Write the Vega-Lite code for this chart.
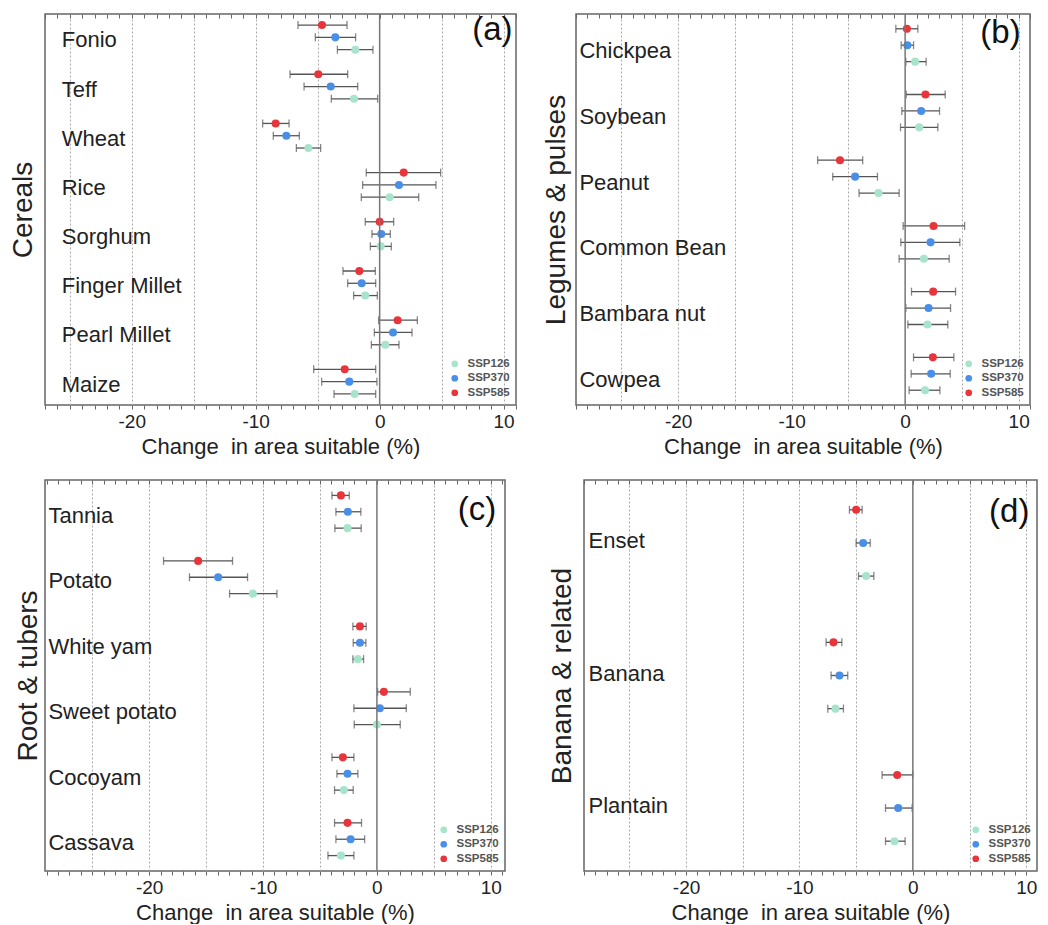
{
  "$schema": "https://vega.github.io/schema/vega-lite/v6.json",
  "background": "white",
  "padding": {"left": 8, "top": 12, "right": 0, "bottom": 0},
  "config": {
    "font": "Liberation Sans",
    "view": {"stroke": "#666", "strokeWidth": 1.5},
    "axis": {"labelFontSize": 19, "titleFontSize": 22, "labelColor": "#222", "titleColor": "#222", "titleFontWeight": "normal", "tickColor": "#666", "tickSize": 4, "labelPadding": 3, "titlePadding": 5, "gridColor": "#aaa", "gridDash": [2, 2]},
    "axisY": {"titleFontSize": 28, "titlePadding": 5}
  },
  "datasets": {
    "a": [
      {"crop": "Fonio", "scen": "SSP585", "mid": -4.65, "lo": -6.59, "hi": -2.63},
      {"crop": "Fonio", "scen": "SSP370", "mid": -3.58, "lo": -5.19, "hi": -1.94},
      {"crop": "Fonio", "scen": "SSP126", "mid": -1.96, "lo": -3.41, "hi": -0.54},
      {"crop": "Teff", "scen": "SSP585", "mid": -4.95, "lo": -7.23, "hi": -2.58},
      {"crop": "Teff", "scen": "SSP370", "mid": -3.95, "lo": -6.1, "hi": -1.77},
      {"crop": "Teff", "scen": "SSP126", "mid": -2.07, "lo": -3.9, "hi": -0.16},
      {"crop": "Wheat", "scen": "SSP585", "mid": -8.39, "lo": -9.44, "hi": -7.31},
      {"crop": "Wheat", "scen": "SSP370", "mid": -7.53, "lo": -8.58, "hi": -6.48},
      {"crop": "Wheat", "scen": "SSP126", "mid": -5.75, "lo": -6.72, "hi": -4.76},
      {"crop": "Rice", "scen": "SSP585", "mid": 1.94, "lo": -1.08, "hi": 4.92},
      {"crop": "Rice", "scen": "SSP370", "mid": 1.56, "lo": -1.37, "hi": 4.54},
      {"crop": "Rice", "scen": "SSP126", "mid": 0.81, "lo": -1.48, "hi": 3.15},
      {"crop": "Sorghum", "scen": "SSP585", "mid": 0.0, "lo": -1.16, "hi": 1.13},
      {"crop": "Sorghum", "scen": "SSP370", "mid": 0.13, "lo": -0.62, "hi": 0.86},
      {"crop": "Sorghum", "scen": "SSP126", "mid": 0.08, "lo": -0.75, "hi": 0.94},
      {"crop": "Finger Millet", "scen": "SSP585", "mid": -1.64, "lo": -2.96, "hi": -0.35},
      {"crop": "Finger Millet", "scen": "SSP370", "mid": -1.45, "lo": -2.58, "hi": -0.32},
      {"crop": "Finger Millet", "scen": "SSP126", "mid": -1.16, "lo": -2.1, "hi": -0.19},
      {"crop": "Pearl Millet", "scen": "SSP585", "mid": 1.45, "lo": -0.08, "hi": 3.04},
      {"crop": "Pearl Millet", "scen": "SSP370", "mid": 1.08, "lo": -0.43, "hi": 2.61},
      {"crop": "Pearl Millet", "scen": "SSP126", "mid": 0.46, "lo": -0.67, "hi": 1.56},
      {"crop": "Maize", "scen": "SSP585", "mid": -2.82, "lo": -5.32, "hi": -0.32},
      {"crop": "Maize", "scen": "SSP370", "mid": -2.45, "lo": -4.68, "hi": -0.22},
      {"crop": "Maize", "scen": "SSP126", "mid": -2.02, "lo": -3.68, "hi": -0.32}
    ],
    "b": [
      {"crop": "Chickpea", "scen": "SSP585", "mid": 0.15, "lo": -0.82, "hi": 1.12},
      {"crop": "Chickpea", "scen": "SSP370", "mid": 0.2, "lo": -0.35, "hi": 0.74},
      {"crop": "Chickpea", "scen": "SSP126", "mid": 0.88, "lo": 0.06, "hi": 1.85},
      {"crop": "Soybean", "scen": "SSP585", "mid": 1.79, "lo": 0.09, "hi": 3.53},
      {"crop": "Soybean", "scen": "SSP370", "mid": 1.41, "lo": -0.29, "hi": 3.03},
      {"crop": "Soybean", "scen": "SSP126", "mid": 1.24, "lo": -0.41, "hi": 2.88},
      {"crop": "Peanut", "scen": "SSP585", "mid": -5.74, "lo": -7.71, "hi": -3.74},
      {"crop": "Peanut", "scen": "SSP370", "mid": -4.41, "lo": -6.38, "hi": -2.44},
      {"crop": "Peanut", "scen": "SSP126", "mid": -2.35, "lo": -4.06, "hi": -0.53},
      {"crop": "Common Bean", "scen": "SSP585", "mid": 2.5, "lo": -0.18, "hi": 5.24},
      {"crop": "Common Bean", "scen": "SSP370", "mid": 2.24, "lo": -0.38, "hi": 4.82},
      {"crop": "Common Bean", "scen": "SSP126", "mid": 1.65, "lo": -0.53, "hi": 3.88},
      {"crop": "Bambara nut", "scen": "SSP585", "mid": 2.47, "lo": 0.56, "hi": 4.44},
      {"crop": "Bambara nut", "scen": "SSP370", "mid": 2.06, "lo": 0.06, "hi": 4.0},
      {"crop": "Bambara nut", "scen": "SSP126", "mid": 1.97, "lo": 0.24, "hi": 3.76},
      {"crop": "Cowpea", "scen": "SSP585", "mid": 2.44, "lo": 0.74, "hi": 4.29},
      {"crop": "Cowpea", "scen": "SSP370", "mid": 2.29, "lo": 0.53, "hi": 3.97},
      {"crop": "Cowpea", "scen": "SSP126", "mid": 1.76, "lo": 0.35, "hi": 3.06}
    ],
    "c": [
      {"crop": "Tannia", "scen": "SSP585", "mid": -3.16, "lo": -3.95, "hi": -2.43},
      {"crop": "Tannia", "scen": "SSP370", "mid": -2.55, "lo": -3.6, "hi": -1.41},
      {"crop": "Tannia", "scen": "SSP126", "mid": -2.58, "lo": -3.69, "hi": -1.38},
      {"crop": "Potato", "scen": "SSP585", "mid": -15.7, "lo": -18.74, "hi": -12.68},
      {"crop": "Potato", "scen": "SSP370", "mid": -13.94, "lo": -16.46, "hi": -11.36},
      {"crop": "Potato", "scen": "SSP126", "mid": -10.89, "lo": -12.94, "hi": -8.78},
      {"crop": "White yam", "scen": "SSP585", "mid": -1.49, "lo": -2.11, "hi": -0.94},
      {"crop": "White yam", "scen": "SSP370", "mid": -1.49, "lo": -2.08, "hi": -0.97},
      {"crop": "White yam", "scen": "SSP126", "mid": -1.67, "lo": -2.11, "hi": -1.17},
      {"crop": "Sweet potato", "scen": "SSP585", "mid": 0.61, "lo": 0.06, "hi": 2.93},
      {"crop": "Sweet potato", "scen": "SSP370", "mid": 0.26, "lo": -2.02, "hi": 2.58},
      {"crop": "Sweet potato", "scen": "SSP126", "mid": 0.0, "lo": -1.99, "hi": 2.05},
      {"crop": "Cocoyam", "scen": "SSP585", "mid": -2.99, "lo": -3.95, "hi": -2.02},
      {"crop": "Cocoyam", "scen": "SSP370", "mid": -2.58, "lo": -3.51, "hi": -1.67},
      {"crop": "Cocoyam", "scen": "SSP126", "mid": -2.9, "lo": -3.72, "hi": -2.08},
      {"crop": "Cassava", "scen": "SSP585", "mid": -2.58, "lo": -3.72, "hi": -1.35},
      {"crop": "Cassava", "scen": "SSP370", "mid": -2.31, "lo": -3.6, "hi": -1.08},
      {"crop": "Cassava", "scen": "SSP126", "mid": -3.16, "lo": -4.3, "hi": -2.02}
    ],
    "d": [
      {"crop": "Enset", "scen": "SSP585", "mid": -5.0, "lo": -5.59, "hi": -4.47},
      {"crop": "Enset", "scen": "SSP370", "mid": -4.38, "lo": -5.0, "hi": -3.76},
      {"crop": "Enset", "scen": "SSP126", "mid": -4.12, "lo": -4.79, "hi": -3.44},
      {"crop": "Banana", "scen": "SSP585", "mid": -7.0, "lo": -7.65, "hi": -6.26},
      {"crop": "Banana", "scen": "SSP370", "mid": -6.47, "lo": -7.21, "hi": -5.74},
      {"crop": "Banana", "scen": "SSP126", "mid": -6.82, "lo": -7.5, "hi": -6.12},
      {"crop": "Plantain", "scen": "SSP585", "mid": -1.38, "lo": -2.71, "hi": 0.0},
      {"crop": "Plantain", "scen": "SSP370", "mid": -1.29, "lo": -2.41, "hi": -0.06},
      {"crop": "Plantain", "scen": "SSP126", "mid": -1.62, "lo": -2.41, "hi": -0.68}
    ]
  },
  "resolve": {"scale": {"x": "independent", "y": "independent", "yOffset": "independent", "color": "independent"}, "legend": {"color": "independent"}},
  "columns": 2,
  "align": "none",
  "spacing": {"row": 20, "column": 23},
  "concat": [
        {
          "width": 471, "height": 391,
          "data": {"name": "a"},
          "resolve": {"axis": {"x": "independent", "y": "independent"}},
          "layer": [
            {"mark": {"type": "rule", "color": "#555", "strokeWidth": 1.3},
             "encoding": {
               "x": {"field": "lo", "type": "quantitative", "scale": {"domain": [-27, 11], "nice": false, "zero": false},
                     "axis": {"orient": "bottom", "domain": false, "values": [-27,-26,-25,-24,-23,-22,-21,-20,-19,-18,-17,-16,-15,-14,-13,-12,-11,-10,-9,-8,-7,-6,-5,-4,-3,-2,-1,0,1,2,3,4,5,6,7,8,9,10,11],
                              "labelExpr": "datum.value % 10 === 0 ? '' + datum.value : ''", "grid": true,
                              "gridOpacity": {"condition": {"test": "datum.value % 5 === 0 && datum.value !== 0", "value": 1}, "value": 0},
                              "title": "Change\u00a0 in area suitable (%)"}},
               "x2": {"field": "hi"},
               "y": {"field": "crop", "type": "nominal", "sort": ["Fonio","Teff","Wheat","Rice","Sorghum","Finger Millet","Pearl Millet","Maize"], "scale": {"paddingInner": 0.25, "paddingOuter": 0.1}, "axis": null},
               "yOffset": {"field": "scen", "type": "nominal", "sort": ["SSP585","SSP370","SSP126"], "scale": {"paddingInner": 0, "paddingOuter": 0}}
             }},
            {"mark": {"type": "tick", "color": "#555", "thickness": 1.3, "size": 8},
             "encoding": {"x": {"field": "lo", "type": "quantitative", "axis": null}, "y": {"field": "crop", "type": "nominal", "sort": ["Fonio","Teff","Wheat","Rice","Sorghum","Finger Millet","Pearl Millet","Maize"], "axis": null}, "yOffset": {"field": "scen", "type": "nominal", "sort": ["SSP585","SSP370","SSP126"]}}},
            {"mark": {"type": "tick", "color": "#555", "thickness": 1.3, "size": 8},
             "encoding": {"x": {"field": "hi", "type": "quantitative", "axis": null}, "y": {"field": "crop", "type": "nominal", "sort": ["Fonio","Teff","Wheat","Rice","Sorghum","Finger Millet","Pearl Millet","Maize"], "axis": null}, "yOffset": {"field": "scen", "type": "nominal", "sort": ["SSP585","SSP370","SSP126"]}}},
            {"mark": {"type": "point", "filled": true, "size": 65, "opacity": 1},
             "encoding": {"x": {"field": "mid", "type": "quantitative", "axis": null}, "y": {"field": "crop", "type": "nominal", "sort": ["Fonio","Teff","Wheat","Rice","Sorghum","Finger Millet","Pearl Millet","Maize"], "axis": null}, "yOffset": {"field": "scen", "type": "nominal", "sort": ["SSP585","SSP370","SSP126"]},
               "color": {"field": "scen", "type": "nominal", "scale": {"domain": ["SSP126","SSP370","SSP585"], "range": ["#a8e4cc","#4a8fe7","#e8353b"]},
                         "legend": {"orient": "bottom-right", "title": null, "offset": 6, "padding": 0, "symbolType": "circle", "symbolSize": 45, "labelFontSize": 11.5, "labelFontWeight": "bold", "labelColor": "#555", "rowPadding": 1.5, "labelOffset": 7}}}},
            {"transform": [{"filter": "datum.scen === 'SSP370'"}],
             "mark": {"type": "text", "align": "left", "baseline": "middle", "fontSize": 22, "dy": 3, "color": "#222"},
             "encoding": {"x": {"datum": -25.65, "type": "quantitative", "axis": null}, "y": {"field": "crop", "type": "nominal", "sort": ["Fonio","Teff","Wheat","Rice","Sorghum","Finger Millet","Pearl Millet","Maize"],
               "axis": {"orient": "left", "title": "Cereals", "titlePadding": 5, "labels": false, "ticks": true, "tickSize": 3, "tickOpacity": 0, "domain": false, "grid": false}}, "text": {"field": "crop"}}},
            {"data": {"values": [{}]},
             "mark": {"type": "rule", "color": "#777", "strokeWidth": 1.5},
             "encoding": {"x": {"datum": 0, "type": "quantitative", "axis": {"orient": "top", "values": [-27,-26,-25,-24,-23,-22,-21,-20,-19,-18,-17,-16,-15,-14,-13,-12,-11,-10,-9,-8,-7,-6,-5,-4,-3,-2,-1,0,1,2,3,4,5,6,7,8,9,10,11], "labels": false, "domain": false, "grid": false, "tickSize": -4, "title": null}}}},
            {"data": {"values": [{}]},
             "mark": {"type": "text", "text": "(a)", "fontSize": 33, "dy": -7, "align": "center", "baseline": "middle", "color": "#111"},
             "encoding": {"x": {"datum": 9.1, "type": "quantitative", "axis": null}, "y": {"datum": "Fonio", "type": "nominal", "axis": null}}}
          ]
        },
        {
          "width": 454, "height": 391,
          "data": {"name": "b"},
          "resolve": {"axis": {"x": "independent", "y": "independent"}},
          "layer": [
            {"mark": {"type": "rule", "color": "#555", "strokeWidth": 1.3},
             "encoding": {
               "x": {"field": "lo", "type": "quantitative", "scale": {"domain": [-29, 11], "nice": false, "zero": false},
                     "axis": {"orient": "bottom", "domain": false, "values": [-29,-28,-27,-26,-25,-24,-23,-22,-21,-20,-19,-18,-17,-16,-15,-14,-13,-12,-11,-10,-9,-8,-7,-6,-5,-4,-3,-2,-1,0,1,2,3,4,5,6,7,8,9,10,11],
                              "labelExpr": "datum.value % 10 === 0 ? '' + datum.value : ''", "grid": true,
                              "gridOpacity": {"condition": {"test": "datum.value % 5 === 0 && datum.value !== 0", "value": 1}, "value": 0},
                              "title": "Change\u00a0 in area suitable (%)"}},
               "x2": {"field": "hi"},
               "y": {"field": "crop", "type": "nominal", "sort": ["Chickpea","Soybean","Peanut","Common Bean","Bambara nut","Cowpea"], "scale": {"paddingInner": 0.25, "paddingOuter": 0.1}, "axis": null},
               "yOffset": {"field": "scen", "type": "nominal", "sort": ["SSP585","SSP370","SSP126"], "scale": {"paddingInner": 0, "paddingOuter": 0}}
             }},
            {"mark": {"type": "tick", "color": "#555", "thickness": 1.3, "size": 8},
             "encoding": {"x": {"field": "lo", "type": "quantitative", "axis": null}, "y": {"field": "crop", "type": "nominal", "sort": ["Chickpea","Soybean","Peanut","Common Bean","Bambara nut","Cowpea"], "axis": null}, "yOffset": {"field": "scen", "type": "nominal", "sort": ["SSP585","SSP370","SSP126"]}}},
            {"mark": {"type": "tick", "color": "#555", "thickness": 1.3, "size": 8},
             "encoding": {"x": {"field": "hi", "type": "quantitative", "axis": null}, "y": {"field": "crop", "type": "nominal", "sort": ["Chickpea","Soybean","Peanut","Common Bean","Bambara nut","Cowpea"], "axis": null}, "yOffset": {"field": "scen", "type": "nominal", "sort": ["SSP585","SSP370","SSP126"]}}},
            {"mark": {"type": "point", "filled": true, "size": 65, "opacity": 1},
             "encoding": {"x": {"field": "mid", "type": "quantitative", "axis": null}, "y": {"field": "crop", "type": "nominal", "sort": ["Chickpea","Soybean","Peanut","Common Bean","Bambara nut","Cowpea"], "axis": null}, "yOffset": {"field": "scen", "type": "nominal", "sort": ["SSP585","SSP370","SSP126"]},
               "color": {"field": "scen", "type": "nominal", "scale": {"domain": ["SSP126","SSP370","SSP585"], "range": ["#a8e4cc","#4a8fe7","#e8353b"]},
                         "legend": {"orient": "bottom-right", "title": null, "offset": 6, "padding": 0, "symbolType": "circle", "symbolSize": 45, "labelFontSize": 11.5, "labelFontWeight": "bold", "labelColor": "#555", "rowPadding": 1.5, "labelOffset": 7}}}},
            {"transform": [{"filter": "datum.scen === 'SSP370'"}],
             "mark": {"type": "text", "align": "left", "baseline": "middle", "fontSize": 22, "dy": 6, "color": "#222"},
             "encoding": {"x": {"datum": -28.7, "type": "quantitative", "axis": null}, "y": {"field": "crop", "type": "nominal", "sort": ["Chickpea","Soybean","Peanut","Common Bean","Bambara nut","Cowpea"],
               "axis": {"orient": "left", "title": "Legumes & pulses", "titlePadding": 3, "labels": false, "ticks": true, "tickSize": 3, "tickOpacity": 0, "domain": false, "grid": false}}, "text": {"field": "crop"}}},
            {"data": {"values": [{}]},
             "mark": {"type": "rule", "color": "#777", "strokeWidth": 1.5},
             "encoding": {"x": {"datum": 0, "type": "quantitative", "axis": {"orient": "top", "values": [-29,-28,-27,-26,-25,-24,-23,-22,-21,-20,-19,-18,-17,-16,-15,-14,-13,-12,-11,-10,-9,-8,-7,-6,-5,-4,-3,-2,-1,0,1,2,3,4,5,6,7,8,9,10,11], "labels": false, "domain": false, "grid": false, "tickSize": -4, "title": null}}}},
            {"data": {"values": [{}]},
             "mark": {"type": "text", "text": "(b)", "fontSize": 33, "dy": -12, "align": "center", "baseline": "middle", "color": "#111"},
             "encoding": {"x": {"datum": 8.4, "type": "quantitative", "axis": null}, "y": {"datum": "Chickpea", "type": "nominal", "axis": null}}}
          ]
        },
        {
          "width": 460, "height": 391,
          "data": {"name": "c"},
          "resolve": {"axis": {"x": "independent", "y": "independent"}},
          "layer": [
            {"mark": {"type": "rule", "color": "#555", "strokeWidth": 1.3},
             "encoding": {
               "x": {"field": "lo", "type": "quantitative", "scale": {"domain": [-29.15, 11.25], "nice": false, "zero": false},
                     "axis": {"orient": "bottom", "domain": false, "values": [-29,-28,-27,-26,-25,-24,-23,-22,-21,-20,-19,-18,-17,-16,-15,-14,-13,-12,-11,-10,-9,-8,-7,-6,-5,-4,-3,-2,-1,0,1,2,3,4,5,6,7,8,9,10,11],
                              "labelExpr": "datum.value % 10 === 0 ? '' + datum.value : ''", "grid": true,
                              "gridOpacity": {"condition": {"test": "datum.value % 5 === 0 && datum.value !== 0", "value": 1}, "value": 0},
                              "title": "Change\u00a0 in area suitable (%)"}},
               "x2": {"field": "hi"},
               "y": {"field": "crop", "type": "nominal", "sort": ["Tannia","Potato","White yam","Sweet potato","Cocoyam","Cassava"], "scale": {"paddingInner": 0.25, "paddingOuter": 0.11}, "axis": null},
               "yOffset": {"field": "scen", "type": "nominal", "sort": ["SSP585","SSP370","SSP126"], "scale": {"paddingInner": 0, "paddingOuter": 0}}
             }},
            {"mark": {"type": "tick", "color": "#555", "thickness": 1.3, "size": 8},
             "encoding": {"x": {"field": "lo", "type": "quantitative", "axis": null}, "y": {"field": "crop", "type": "nominal", "sort": ["Tannia","Potato","White yam","Sweet potato","Cocoyam","Cassava"], "axis": null}, "yOffset": {"field": "scen", "type": "nominal", "sort": ["SSP585","SSP370","SSP126"]}}},
            {"mark": {"type": "tick", "color": "#555", "thickness": 1.3, "size": 8},
             "encoding": {"x": {"field": "hi", "type": "quantitative", "axis": null}, "y": {"field": "crop", "type": "nominal", "sort": ["Tannia","Potato","White yam","Sweet potato","Cocoyam","Cassava"], "axis": null}, "yOffset": {"field": "scen", "type": "nominal", "sort": ["SSP585","SSP370","SSP126"]}}},
            {"mark": {"type": "point", "filled": true, "size": 65, "opacity": 1},
             "encoding": {"x": {"field": "mid", "type": "quantitative", "axis": null}, "y": {"field": "crop", "type": "nominal", "sort": ["Tannia","Potato","White yam","Sweet potato","Cocoyam","Cassava"], "axis": null}, "yOffset": {"field": "scen", "type": "nominal", "sort": ["SSP585","SSP370","SSP126"]},
               "color": {"field": "scen", "type": "nominal", "scale": {"domain": ["SSP126","SSP370","SSP585"], "range": ["#a8e4cc","#4a8fe7","#e8353b"]},
                         "legend": {"orient": "bottom-right", "title": null, "offset": 6, "padding": 0, "symbolType": "circle", "symbolSize": 45, "labelFontSize": 11.5, "labelFontWeight": "bold", "labelColor": "#555", "rowPadding": 1.5, "labelOffset": 7}}}},
            {"transform": [{"filter": "datum.scen === 'SSP370'"}],
             "mark": {"type": "text", "align": "left", "baseline": "middle", "fontSize": 22, "dy": 4, "color": "#222"},
             "encoding": {"x": {"datum": -28.85, "type": "quantitative", "axis": null}, "y": {"field": "crop", "type": "nominal", "sort": ["Tannia","Potato","White yam","Sweet potato","Cocoyam","Cassava"],
               "axis": {"orient": "left", "title": "Root & tubers", "titlePadding": 0, "labels": false, "ticks": true, "tickSize": 3, "tickOpacity": 0, "domain": false, "grid": false}}, "text": {"field": "crop"}}},
            {"data": {"values": [{}]},
             "mark": {"type": "rule", "color": "#777", "strokeWidth": 1.5},
             "encoding": {"x": {"datum": 0, "type": "quantitative", "axis": {"orient": "top", "values": [-29,-28,-27,-26,-25,-24,-23,-22,-21,-20,-19,-18,-17,-16,-15,-14,-13,-12,-11,-10,-9,-8,-7,-6,-5,-4,-3,-2,-1,0,1,2,3,4,5,6,7,8,9,10,11], "labels": false, "domain": false, "grid": false, "tickSize": -4, "title": null}}}},
            {"data": {"values": [{}]},
             "mark": {"type": "text", "text": "(c)", "fontSize": 33, "dy": -2, "align": "center", "baseline": "middle", "color": "#111"},
             "encoding": {"x": {"datum": 8.8, "type": "quantitative", "axis": null}, "y": {"datum": "Tannia", "type": "nominal", "axis": null}}}
          ]
        },
        {
          "width": 453, "height": 391,
          "data": {"name": "d"},
          "resolve": {"axis": {"x": "independent", "y": "independent"}},
          "layer": [
            {"mark": {"type": "rule", "color": "#555", "strokeWidth": 1.3},
             "encoding": {
               "x": {"field": "lo", "type": "quantitative", "scale": {"domain": [-29, 10.95], "nice": false, "zero": false},
                     "axis": {"orient": "bottom", "domain": false, "values": [-29,-28,-27,-26,-25,-24,-23,-22,-21,-20,-19,-18,-17,-16,-15,-14,-13,-12,-11,-10,-9,-8,-7,-6,-5,-4,-3,-2,-1,0,1,2,3,4,5,6,7,8,9,10],
                              "labelExpr": "datum.value % 10 === 0 ? '' + datum.value : ''", "grid": true,
                              "gridOpacity": {"condition": {"test": "datum.value % 5 === 0 && datum.value !== 0", "value": 1}, "value": 0},
                              "title": "Change\u00a0 in area suitable (%)"}},
               "x2": {"field": "hi"},
               "y": {"field": "crop", "type": "nominal", "sort": ["Enset","Banana","Plantain"], "scale": {"paddingInner": 0.25, "paddingOuter": 0.1}, "axis": null},
               "yOffset": {"field": "scen", "type": "nominal", "sort": ["SSP585","SSP370","SSP126"], "scale": {"paddingInner": 0, "paddingOuter": 0}}
             }},
            {"mark": {"type": "tick", "color": "#555", "thickness": 1.3, "size": 8},
             "encoding": {"x": {"field": "lo", "type": "quantitative", "axis": null}, "y": {"field": "crop", "type": "nominal", "sort": ["Enset","Banana","Plantain"], "axis": null}, "yOffset": {"field": "scen", "type": "nominal", "sort": ["SSP585","SSP370","SSP126"]}}},
            {"mark": {"type": "tick", "color": "#555", "thickness": 1.3, "size": 8},
             "encoding": {"x": {"field": "hi", "type": "quantitative", "axis": null}, "y": {"field": "crop", "type": "nominal", "sort": ["Enset","Banana","Plantain"], "axis": null}, "yOffset": {"field": "scen", "type": "nominal", "sort": ["SSP585","SSP370","SSP126"]}}},
            {"mark": {"type": "point", "filled": true, "size": 65, "opacity": 1},
             "encoding": {"x": {"field": "mid", "type": "quantitative", "axis": null}, "y": {"field": "crop", "type": "nominal", "sort": ["Enset","Banana","Plantain"], "axis": null}, "yOffset": {"field": "scen", "type": "nominal", "sort": ["SSP585","SSP370","SSP126"]},
               "color": {"field": "scen", "type": "nominal", "scale": {"domain": ["SSP126","SSP370","SSP585"], "range": ["#a8e4cc","#4a8fe7","#e8353b"]},
                         "legend": {"orient": "bottom-right", "title": null, "offset": 6, "padding": 0, "symbolType": "circle", "symbolSize": 45, "labelFontSize": 11.5, "labelFontWeight": "bold", "labelColor": "#555", "rowPadding": 1.5, "labelOffset": 7}}}},
            {"transform": [{"filter": "datum.scen === 'SSP370'"}],
             "mark": {"type": "text", "align": "left", "baseline": "middle", "fontSize": 22, "dy": -2, "color": "#222"},
             "encoding": {"x": {"datum": -28.6, "type": "quantitative", "axis": null}, "y": {"field": "crop", "type": "nominal", "sort": ["Enset","Banana","Plantain"],
               "axis": {"orient": "left", "title": ["", "Banana & related"], "titleLineHeight": 6, "titlePadding": 5, "labels": false, "ticks": true, "tickSize": 3, "tickOpacity": 0, "domain": false, "grid": false}}, "text": {"field": "crop"}}},
            {"data": {"values": [{}]},
             "mark": {"type": "rule", "color": "#777", "strokeWidth": 1.5},
             "encoding": {"x": {"datum": 0, "type": "quantitative", "axis": {"orient": "top", "values": [-29,-28,-27,-26,-25,-24,-23,-22,-21,-20,-19,-18,-17,-16,-15,-14,-13,-12,-11,-10,-9,-8,-7,-6,-5,-4,-3,-2,-1,0,1,2,3,4,5,6,7,8,9,10], "labels": false, "domain": false, "grid": false, "tickSize": -4, "title": null}}}},
            {"data": {"values": [{}]},
             "mark": {"type": "text", "text": "(d)", "fontSize": 33, "dy": -31, "align": "center", "baseline": "middle", "color": "#111"},
             "encoding": {"x": {"datum": 8.5, "type": "quantitative", "axis": null}, "y": {"datum": "Enset", "type": "nominal", "axis": null}}}
          ]
        }
  ]
}
